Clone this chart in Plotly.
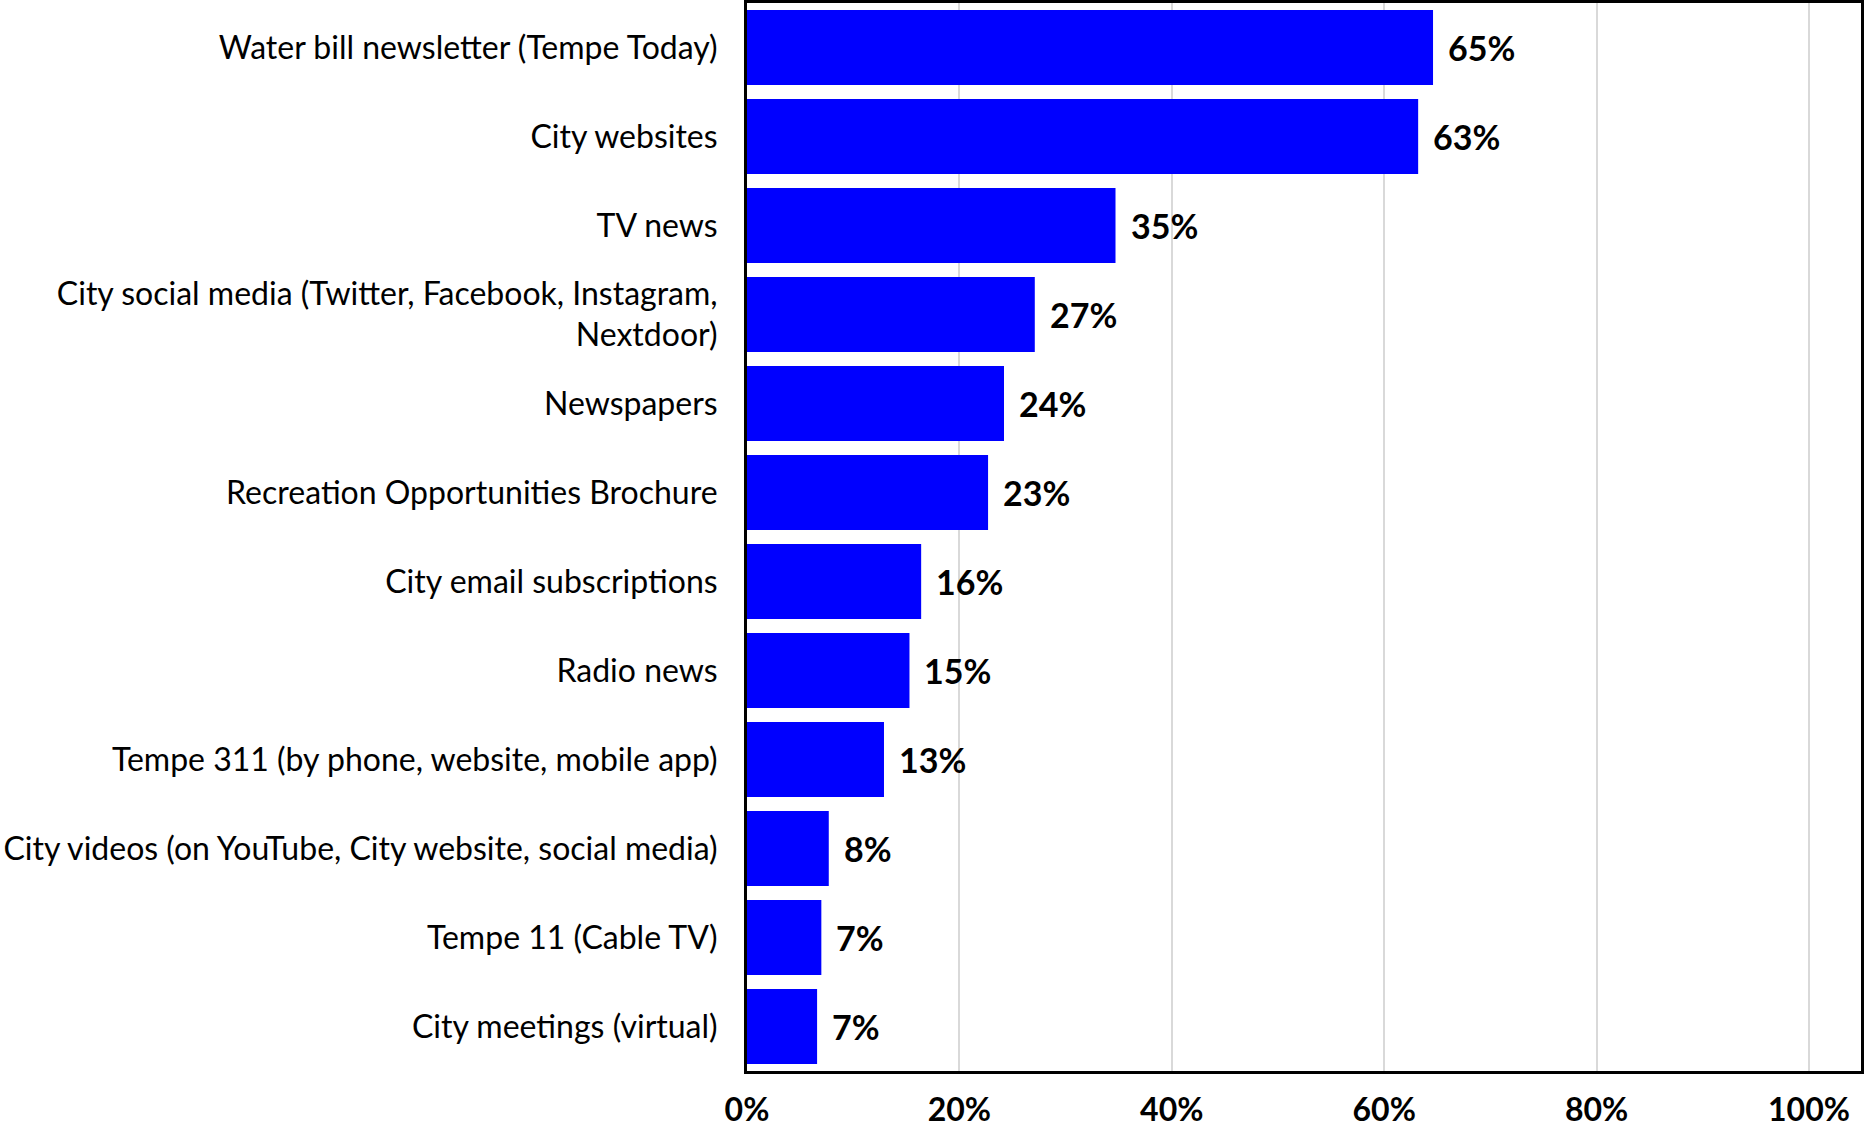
import plotly.graph_objects as go

categories = [
    "Water bill newsletter (Tempe Today)",
    "City websites",
    "TV news",
    "City social media (Twitter, Facebook, Instagram,<br>Nextdoor)",
    "Newspapers",
    "Recreation Opportunities Brochure",
    "City email subscriptions",
    "Radio news",
    "Tempe 311 (by phone, website, mobile app)",
    "City videos (on YouTube, City website, social media)",
    "Tempe 11 (Cable TV)",
    "City meetings (virtual)",
]
values = [64.6, 63.2, 34.7, 27.1, 24.2, 22.7, 16.4, 15.3, 12.9, 7.7, 7.0, 6.6]
labels = ["65%", "63%", "35%", "27%", "24%", "23%", "16%", "15%", "13%", "8%", "7%", "7%"]
x_ticks = [0, 20, 40, 60, 80, 100]
x_tick_text = ["0%", "20%", "40%", "60%", "80%", "100%"]

FONT = "Lato, Noto Sans, sans-serif"

fig = go.Figure()
fig.add_trace(go.Bar(
    y=categories, x=values, orientation="h",
    marker=dict(color="#0000FF", line=dict(width=0)),
    hoverinfo="skip",
))

# data labels just past the bar ends
for cat, v, lab in zip(categories, values, labels):
    fig.add_annotation(
        x=v, y=cat, text=lab, showarrow=False,
        xanchor="left", yanchor="middle", xshift=13,
        font=dict(family=FONT, size=34, color="black", weight="bold"),
    )

fig.update_layout(
    width=1864, height=1128,
    margin=dict(l=747, r=3, t=3, b=57),
    paper_bgcolor="white", plot_bgcolor="white",
    bargap=0.16, showlegend=False,
    font=dict(family=FONT, color="black"),
)
fig.update_xaxes(
    range=[0, 104.9], tickvals=x_ticks, ticktext=x_tick_text,
    showgrid=True, gridcolor="#d9d9d9", gridwidth=1.5,
    showline=True, linecolor="black", linewidth=3, mirror=True,
    ticks="outside", ticklen=9, tickcolor="rgba(0,0,0,0)",
    tickfont=dict(family=FONT, size=32, color="black", weight="bold"),
    zeroline=False, fixedrange=True, automargin=False,
)
fig.update_yaxes(
    autorange="reversed", categoryorder="array", categoryarray=categories,
    showline=True, linecolor="black", linewidth=3, mirror=True,
    ticks="outside", ticklen=20, tickcolor="rgba(0,0,0,0)",
    tickfont=dict(family=FONT, size=32, color="black"),
    showgrid=False, fixedrange=True, automargin=False,
)

# drop the default body margin so the figure sits at the window corner
fig.write_html("out.html", config={"displayModeBar": False},
               post_script="document.body.style.margin='0';")
